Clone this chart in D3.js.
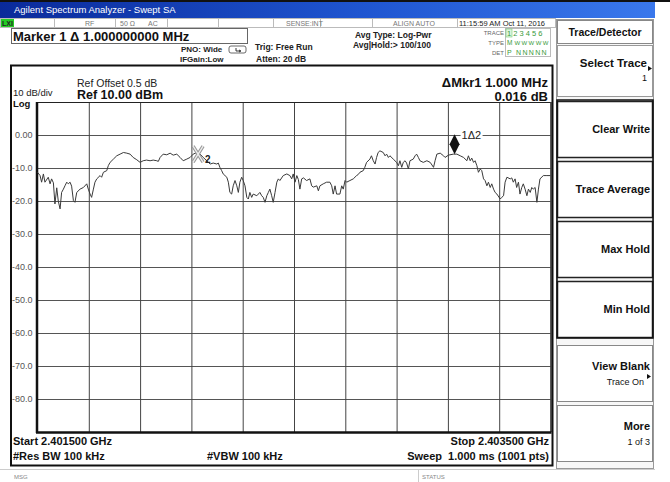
<!DOCTYPE html>
<html>
<head>
<meta charset="utf-8">
<script src="https://cdn.jsdelivr.net/npm/d3@7"></script>
<style>
  body { margin: 0; background: #fff; }
  svg { display: block; font-family: "Liberation Sans", Arial, sans-serif; }
</style>
</head>
<body>
<div class="chart"></div>
<script>
// frequency (MHz) of each traced point
var traceFreq = [2401.500,2401.510,2401.516,2401.523,2401.529,2401.542,2401.549,2401.555,2401.562,2401.568,
  2401.575,2401.581,2401.588,2401.594,2401.601,2401.607,2401.614,2401.620,2401.627,2401.633,
  2401.640,2401.646,2401.653,2401.666,2401.679,2401.692,2401.698,2401.705,2401.711,2401.718,
  2401.724,2401.731,2401.744,2401.750,2401.757,2401.770,2401.776,2401.783,2401.796,2401.809,
  2401.822,2401.835,2401.848,2401.861,2401.873,2401.887,2401.900,2401.912,2401.925,2401.939,
  2401.951,2401.965,2401.971,2401.978,2401.990,2402.004,2402.017,2402.029,2402.043,2402.056,
  2402.068,2402.082,2402.095,2402.107,2402.121,2402.134,2402.146,2402.160,2402.173,2402.185,
  2402.199,2402.205,2402.211,2402.218,2402.224,2402.231,2402.238,2402.244,2402.250,2402.257,
  2402.263,2402.270,2402.277,2402.283,2402.289,2402.296,2402.302,2402.309,2402.316,2402.322,
  2402.328,2402.335,2402.341,2402.355,2402.367,2402.374,2402.380,2402.387,2402.394,2402.400,
  2402.406,2402.413,2402.419,2402.426,2402.433,2402.439,2402.445,2402.458,2402.472,2402.484,
  2402.491,2402.497,2402.504,2402.511,2402.517,2402.523,2402.530,2402.537,2402.549,2402.562,
  2402.569,2402.575,2402.589,2402.595,2402.601,2402.614,2402.627,2402.640,2402.647,2402.653,
  2402.660,2402.666,2402.679,2402.686,2402.692,2402.699,2402.705,2402.718,2402.731,2402.744,
  2402.750,2402.757,2402.770,2402.776,2402.783,2402.796,2402.802,2402.809,2402.816,2402.822,
  2402.828,2402.835,2402.848,2402.855,2402.861,2402.868,2402.874,2402.887,2402.900,2402.907,
  2402.913,2402.920,2402.926,2402.933,2402.939,2402.946,2402.952,2402.965,2402.972,2402.978,
  2402.985,2402.991,2403.004,2403.018,2403.031,2403.044,2403.050,2403.057,2403.070,2403.083,
  2403.089,2403.102,2403.121,2403.135,2403.148,2403.161,2403.174,2403.180,2403.187,2403.193,
  2403.200,2403.206,2403.213,2403.219,2403.226,2403.232,2403.239,2403.245,2403.252,2403.258,
  2403.265,2403.271,2403.278,2403.284,2403.291,2403.304,2403.310,2403.317,2403.323,2403.330,
  2403.343,2403.349,2403.355,2403.362,2403.368,2403.375,2403.381,2403.388,2403.394,2403.401,
  2403.408,2403.414,2403.421,2403.427,2403.433,2403.440,2403.447,2403.453,2403.459,2403.472,
  2403.486,2403.500];

// level (dBm) at each point above
var traceLevel = [-11.3,-12.3,-14.3,-11.8,-14.3,-12.8,-14.8,-13.3,-14.5,-20.9,
  -16.0,-20.0,-22.4,-17.4,-16.4,-15.4,-14.3,-14.8,-14.3,-15.5,
  -19.9,-20.4,-17.4,-16.4,-15.9,-14.8,-16.4,-17.9,-18.9,-16.4,
  -14.3,-13.3,-12.3,-12.8,-11.3,-10.8,-9.3,-8.3,-7.3,-6.3,
  -5.8,-5.3,-5.5,-5.8,-6.8,-7.5,-8.3,-7.8,-7.6,-7.8,
  -7.6,-7.8,-8.0,-6.8,-5.8,-6.0,-5.5,-6.1,-5.8,-6.8,
  -7.8,-7.3,-6.8,-5.8,-5.3,-5.8,-6.8,-7.8,-8.8,-8.5,
  -8.8,-8.5,-9.8,-10.8,-11.8,-12.3,-12.8,-14.3,-17.4,-17.9,
  -15.4,-13.8,-15.4,-17.4,-14.3,-12.8,-13.8,-15.4,-18.9,-19.4,
  -17.4,-18.9,-17.9,-18.4,-17.4,-18.4,-18.9,-20.4,-18.4,-17.4,
  -16.4,-18.4,-20.4,-17.4,-14.3,-13.3,-13.8,-12.3,-11.8,-12.3,
  -13.3,-11.8,-14.3,-12.3,-13.5,-16.4,-13.3,-13.0,-13.8,-13.3,
  -15.4,-15.8,-15.4,-16.9,-15.4,-14.8,-14.3,-14.3,-15.4,-17.9,
  -15.4,-17.9,-17.9,-15.4,-16.4,-13.8,-14.3,-13.8,-13.3,-12.3,
  -12.0,-11.3,-10.8,-9.8,-8.3,-7.3,-6.3,-7.8,-8.8,-6.8,
  -5.3,-4.8,-5.3,-6.3,-5.8,-6.8,-6.3,-7.3,-8.3,-9.3,
  -7.8,-9.8,-8.3,-7.8,-8.5,-10.3,-7.8,-7.3,-6.3,-5.8,
  -6.8,-7.8,-8.3,-7.8,-8.3,-9.8,-7.8,-5.8,-5.5,-6.3,
  -6.8,-6.1,-5.8,-5.8,-6.3,-6.8,-7.8,-6.3,-7.8,-7.0,
  -8.3,-7.8,-9.3,-11.3,-10.3,-10.8,-13.3,-13.8,-15.4,-14.3,
  -15.9,-14.8,-16.4,-17.4,-17.9,-19.4,-18.9,-18.4,-14.3,-12.8,
  -13.3,-13.0,-14.3,-13.3,-15.9,-14.3,-17.9,-15.9,-14.8,-16.4,
  -18.4,-16.4,-17.4,-15.9,-16.4,-15.9,-20.4,-16.4,-13.3,-12.3,
  -12.3,-12.3];

// grid / tick values
var yTicks = [0, -10, -20, -30, -40, -50, -60, -70, -80];
var yTickLabels = ['0.00', '-10.0', '-20.0', '-30.0', '-40.0', '-50.0', '-60.0', '-70.0', '-80.0'];
var xTicks = [2401.7, 2401.9, 2402.1, 2402.3, 2402.5, 2402.7, 2402.9, 2403.1, 2403.3];

// markers: 2 = reference (X), 1 = delta (diamond)
var markerNames = ['2', '1Δ2'];
var markerFreq = [2402.126, 2403.126];

// softkeys on the right
var softkeys = [
  { label: 'Clear Write', sub: '' },
  { label: 'Trace Average', sub: '' },
  { label: 'Max Hold', sub: '' },
  { label: 'Min Hold', sub: '' },
  { label: 'View Blank', sub: 'Trace On', arrow: true },
  { label: 'More', sub: '1 of 3' }
];

/*-------------------------------------------------------*/
function main(){
  var W = 670, H = 482;
  var svg = d3.select('.chart').append('svg')
    .attr('width', W)
    .attr('height', H);

  svg.append('rect').attr('width', W).attr('height', H).attr('fill', '#fff');

  // title bar
  var grad = svg.append('defs').append('linearGradient')
    .attr('id', 'tb').attr('x1', 0).attr('x2', 1).attr('y1', 0).attr('y2', 0);
  grad.append('stop').attr('offset', '0%').attr('stop-color', '#0a2a9a');
  grad.append('stop').attr('offset', '55%').attr('stop-color', '#1f55d0');
  grad.append('stop').attr('offset', '100%').attr('stop-color', '#3a78ec');

  svg.append('rect').attr('x', 0).attr('y', 0).attr('width', W).attr('height', 2).attr('fill', '#111');
  svg.append('rect').attr('x', 0).attr('y', 2).attr('width', 655).attr('height', 16).attr('fill', 'url(#tb)');
  svg.append('text').attr('x', 14).attr('y', 13)
    .attr('fill', '#fff').attr('font-size', 9.5)
    .text('Agilent Spectrum Analyzer - Swept SA');

  // status row
  var status = svg.append('g');
  status.append('rect').attr('x', 0.5).attr('y', 18.5).attr('width', 555).attr('height', 9)
    .attr('fill', '#fff').attr('stroke', '#bbb');
  status.append('rect').attr('x', 1).attr('y', 19).attr('width', 13).attr('height', 8).attr('fill', '#22cc22');
  status.append('text').attr('x', 2).attr('y', 26).attr('font-size', 7).attr('font-weight', 'bold')
    .attr('fill', '#222').text('LXI');
  [54, 115, 167, 218, 273, 320, 372, 457].forEach(function(x){
    status.append('line').attr('x1', x + 0.5).attr('x2', x + 0.5).attr('y1', 18).attr('y2', 28)
      .attr('stroke', '#bbb');
  });
  var st = [['RF', 85], ['50 Ω', 120], ['AC', 148], ['SENSE:INT', 286], ['ALIGN AUTO', 393]];
  st.forEach(function(s){
    status.append('text').attr('x', s[1]).attr('y', 26).attr('font-size', 7)
      .attr('fill', '#777').text(s[0]);
  });
  status.append('text').attr('x', 459).attr('y', 26).attr('font-size', 7.5)
    .attr('fill', '#222').text('11:15:59 AM Oct 11, 2016');

  // marker readout box
  svg.append('rect').attr('x', 11.5).attr('y', 28.5).attr('width', 236).attr('height', 15)
    .attr('fill', '#fff').attr('stroke', '#666');
  svg.append('text').attr('x', 13).attr('y', 41).attr('font-size', 13).attr('font-weight', 'bold')
    .attr('fill', '#111').text('Marker 1 Δ 1.000000000 MHz');

  var small = [
    ['PNO: Wide', 181, 52, 8], ['IFGain:Low', 180, 62, 8],
    ['Trig: Free Run', 255, 50, 8.5], ['Atten: 20 dB', 256, 62, 8.5],
    ['Avg Type: Log-Pwr', 355, 38, 8.5], ['Avg|Hold:> 100/100', 353, 48, 8.5]
  ];
  small.forEach(function(s){
    svg.append('text').attr('x', s[1]).attr('y', s[2]).attr('font-size', s[3])
      .attr('font-weight', 'bold').attr('fill', '#222').text(s[0]);
  });
  // PNO icon
  svg.append('path').attr('d', 'M231,46 h13 a2,2 0 0 1 2,2 v3 a2,2 0 0 1 -2,2 h-13 a2,2 0 0 1 -2,-2 v-3 a2,2 0 0 1 2,-2 z')
    .attr('fill', 'none').attr('stroke', '#444').attr('stroke-width', 0.8);
  svg.append('path').attr('d', 'M236,48 v3 h4 M239,50 l2,1 l-2,1').attr('fill', 'none').attr('stroke', '#222').attr('stroke-width', 0.9);

  // trace / type / det table
  var tbl = [['TRACE', 35], ['TYPE', 45], ['DET', 55]];
  tbl.forEach(function(t){
    svg.append('text').attr('x', 504).attr('y', t[1]).attr('text-anchor', 'end')
      .attr('font-size', 6).attr('fill', '#666').text(t[0]);
  });
  svg.append('rect').attr('x', 505.5).attr('y', 28.5).attr('width', 45).attr('height', 28)
    .attr('fill', 'none').attr('stroke', '#bbb');
  svg.append('rect').attr('x', 506).attr('y', 29).attr('width', 6).attr('height', 8)
    .attr('fill', '#dff5df').attr('stroke', '#7c7').attr('stroke-width', 0.6);
  svg.append('text').attr('x', 507).attr('y', 35.5).attr('font-size', 7.5).attr('fill', '#3a9a3a')
    .text('1 2 3 4 5 6');
  svg.append('text').attr('x', 507).attr('y', 45).attr('font-size', 6.5).attr('fill', '#3a9a3a')
    .text('M').append('tspan').attr('dx', 2).attr('fill', '#3a9a3a').attr('font-size', 6)
    .attr('textLength', 34).text('WWWWW');
  svg.append('text').attr('x', 507).attr('y', 55).attr('font-size', 7).attr('fill', '#3a9a3a')
    .attr('letter-spacing', 1.3).text('P NNNNN');

  /**** graph window ****/
  var left = 37.5, right = 550.5, top = 102, bottom = 432;
  var x = d3.scaleLinear().domain([2401.5, 2403.5]).range([left, right]);
  var y = d3.scaleLinear().domain([-90, 10]).range([bottom, top]);

  svg.append('rect').attr('x', 11).attr('y', 65.5).attr('width', 541.5).attr('height', 400)
    .attr('fill', '#fff').attr('stroke', '#111').attr('stroke-width', 2);

  svg.append('text').attr('x', 77).attr('y', 87).attr('font-size', 10.5).attr('fill', '#222')
    .text('Ref Offset 0.5 dB');
  svg.append('text').attr('x', 77).attr('y', 99).attr('font-size', 12.5).attr('font-weight', 'bold')
    .attr('fill', '#111').text('Ref 10.00 dBm');
  svg.append('text').attr('x', 13).attr('y', 96).attr('font-size', 9.5).attr('fill', '#222').text('10 dB/div');
  svg.append('text').attr('x', 13).attr('y', 106.5).attr('font-size', 9.5).attr('font-weight', 'bold')
    .attr('fill', '#111').text('Log');
  svg.append('text').attr('x', 548).attr('y', 87).attr('text-anchor', 'end').attr('font-size', 13)
    .attr('font-weight', 'bold').attr('fill', '#111').text('ΔMkr1 1.000 MHz');
  svg.append('text').attr('x', 548).attr('y', 101).attr('text-anchor', 'end').attr('font-size', 13)
    .attr('font-weight', 'bold').attr('fill', '#111').text('0.016 dB');

  // horizontal grid + labels
  var yAxis = svg.append('g')
    .attr('transform', 'translate(' + left + ',0)')
    .call(d3.axisLeft(y).tickValues(yTicks).tickSize(-(right - left)).tickPadding(5)
      .tickFormat(function(d, i){ return yTickLabels[i]; }));
  yAxis.select('.domain').remove();
  yAxis.selectAll('line').attr('stroke', '#555');
  yAxis.selectAll('text').attr('font-size', 9).attr('fill', '#555')
    .attr('font-family', '"Liberation Sans", Arial, sans-serif');

  // vertical grid
  var xAxis = svg.append('g')
    .attr('transform', 'translate(0,' + bottom + ')')
    .call(d3.axisTop(x).tickValues(xTicks).tickSize(bottom - top).tickFormat(''));
  xAxis.select('.domain').remove();
  xAxis.selectAll('line').attr('stroke', '#444');

  // plot border
  svg.append('line').attr('x1', left).attr('x2', right).attr('y1', top + 0.5).attr('y2', top + 0.5)
    .attr('stroke', '#222');
  svg.append('line').attr('x1', right + 0.5).attr('x2', right + 0.5).attr('y1', top).attr('y2', bottom)
    .attr('stroke', '#222').attr('stroke-width', 1.5);
  svg.append('line').attr('x1', left - 0.5).attr('x2', left - 0.5).attr('y1', top).attr('y2', bottom + 1)
    .attr('stroke', '#111').attr('stroke-width', 2.5);
  svg.append('line').attr('x1', left - 1.5).attr('x2', right + 1).attr('y1', bottom + 0.5).attr('y2', bottom + 0.5)
    .attr('stroke', '#111').attr('stroke-width', 2.5);

  // trace
  var pts = d3.zip(traceFreq, traceLevel);
  var line = d3.line()
    .x(function(d){ return x(d[0]); })
    .y(function(d){ return y(d[1]); });
  svg.append('path').datum(pts)
    .attr('d', line)
    .attr('fill', 'none')
    .attr('stroke', '#3a3a3a')
    .attr('stroke-width', 1)
    .attr('stroke-linejoin', 'round');

  function levelAt(f){
    var i = d3.bisector(function(d){ return d[0]; }).left(pts, f);
    i = Math.max(1, Math.min(pts.length - 1, i));
    var a = pts[i - 1], b = pts[i];
    return a[1] + (b[1] - a[1]) * (f - a[0]) / (b[0] - a[0]);
  }

  // marker 2 : hollow grey X
  var m2x = x(markerFreq[0]), m2y = y(levelAt(markerFreq[0])) + 1;
  var xPath = 'M' + (m2x - 5) + ',' + (m2y - 8) + 'L' + (m2x + 5) + ',' + (m2y + 8) +
              'M' + (m2x + 5) + ',' + (m2y - 8) + 'L' + (m2x - 5) + ',' + (m2y + 8);
  svg.append('path').attr('d', xPath).attr('stroke', '#999').attr('stroke-width', 3.5).attr('fill', 'none');
  svg.append('path').attr('d', xPath).attr('stroke', '#eee').attr('stroke-width', 1.3).attr('fill', 'none');
  svg.append('text').attr('x', m2x + 7).attr('y', m2y + 9).attr('font-size', 10).attr('font-weight', 'bold')
    .attr('fill', '#222').text(markerNames[0]);

  // marker 1 : black diamond sitting on the trace
  var m1x = x(markerFreq[1]), m1y = y(levelAt(markerFreq[1]));
  svg.append('rect').attr('x', m1x + 6).attr('y', y(0) - 6).attr('width', 22).attr('height', 12).attr('fill', '#fff');
  svg.append('path')
    .attr('d', 'M' + m1x + ',' + (m1y - 20) + 'L' + (m1x + 5) + ',' + (m1y - 10) + 'L' + m1x + ',' + m1y +
               'L' + (m1x - 5) + ',' + (m1y - 10) + 'Z')
    .attr('fill', '#111');
  svg.append('text').attr('x', m1x + 7).attr('y', y(0) + 4).attr('font-size', 11).attr('fill', '#222')
    .text(markerNames[1]);

  // footer of the graph window
  var foot = [
    ['Start 2.401500 GHz', 13, 445, 'start'], ['#Res BW 100 kHz', 13, 460, 'start'],
    ['#VBW 100 kHz', 207, 460, 'start'], ['Stop 2.403500 GHz', 549, 445, 'end'],
    ['Sweep  1.000 ms (1001 pts)', 549, 460, 'end']
  ];
  foot.forEach(function(f){
    svg.append('text').attr('x', f[1]).attr('y', f[2]).attr('text-anchor', f[3])
      .attr('font-size', 11).attr('font-weight', 'bold').attr('fill', '#111')
      .style('white-space', 'pre').text(f[0]);
  });

  // message line
  svg.append('line').attr('x1', 0).attr('x2', 655).attr('y1', 469.5).attr('y2', 469.5).attr('stroke', '#ccc');
  svg.append('line').attr('x1', 418.5).attr('x2', 418.5).attr('y1', 470).attr('y2', 482).attr('stroke', '#ccc');
  svg.append('text').attr('x', 14).attr('y', 479).attr('font-size', 6).attr('fill', '#888').text('MSG');
  svg.append('text').attr('x', 422).attr('y', 479).attr('font-size', 6).attr('fill', '#888').text('STATUS');

  /**** softkey panel ****/
  var px = 557, pw = 96;
  var panel = svg.append('g');
  panel.append('rect').attr('x', px - 0.5).attr('y', 19.5).attr('width', pw + 1).attr('height', 449)
    .attr('fill', '#f7f7f7').attr('stroke', '#999');
  panel.append('rect').attr('x', px + 0.5).attr('y', 20.5).attr('width', pw - 1).attr('height', 23)
    .attr('fill', '#fff').attr('stroke', '#888');
  panel.append('text').attr('x', px + pw / 2).attr('y', 36).attr('text-anchor', 'middle')
    .attr('font-size', 10.5).attr('font-weight', 'bold').attr('fill', '#111').text('Trace/Detector');

  panel.append('rect').attr('x', px + 0.5).attr('y', 45.5).attr('width', pw - 1).attr('height', 51)
    .attr('fill', '#fff').attr('stroke', '#999');
  panel.append('text').attr('x', px + pw - 6).attr('y', 67).attr('text-anchor', 'end')
    .attr('font-size', 11.5).attr('font-weight', 'bold').attr('fill', '#111').text('Select Trace');
  panel.append('path').attr('d', 'M' + (px + pw - 5) + ',66 l4,2.5 l-4,2.5 z').attr('fill', '#111');
  panel.append('text').attr('x', px + pw - 6).attr('y', 81).attr('text-anchor', 'end')
    .attr('font-size', 9).attr('fill', '#111').text('1');

  var keyTop = [101, 161, 221, 281, 345, 405];
  var keyH = 56;
  softkeys.forEach(function(k, i){
    var ty = keyTop[i];
    var dark = i < 4;
    panel.append('rect').attr('x', px + 0.5).attr('y', ty + 0.5).attr('width', pw - 1).attr('height', keyH)
      .attr('fill', '#fff').attr('stroke', dark ? '#222' : '#888').attr('stroke-width', dark ? 1.5 : 1);
    var ly = k.sub ? ty + 25 : ty + 32;
    panel.append('text').attr('x', px + pw - 3).attr('y', ly).attr('text-anchor', 'end')
      .attr('font-size', 11).attr('font-weight', 'bold').attr('fill', '#111').text(k.label);
    if (k.sub) {
      panel.append('text').attr('x', px + pw - (k.arrow ? 9 : 3)).attr('y', ly + 15).attr('text-anchor', 'end')
        .attr('font-size', 9).attr('fill', '#111').text(k.sub);
    }
    if (k.arrow) {
      panel.append('path').attr('d', 'M' + (px + pw - 6) + ',' + (ly + 4) + ' l4,2.5 l-4,2.5 z').attr('fill', '#111');
    }
  });
  // bold frame around the four trace-mode keys
  panel.append('rect').attr('x', px).attr('y', 100).attr('width', pw).attr('height', 238)
    .attr('fill', 'none').attr('stroke', '#111').attr('stroke-width', 1.5);
}

main();
</script>
</body>
</html>
